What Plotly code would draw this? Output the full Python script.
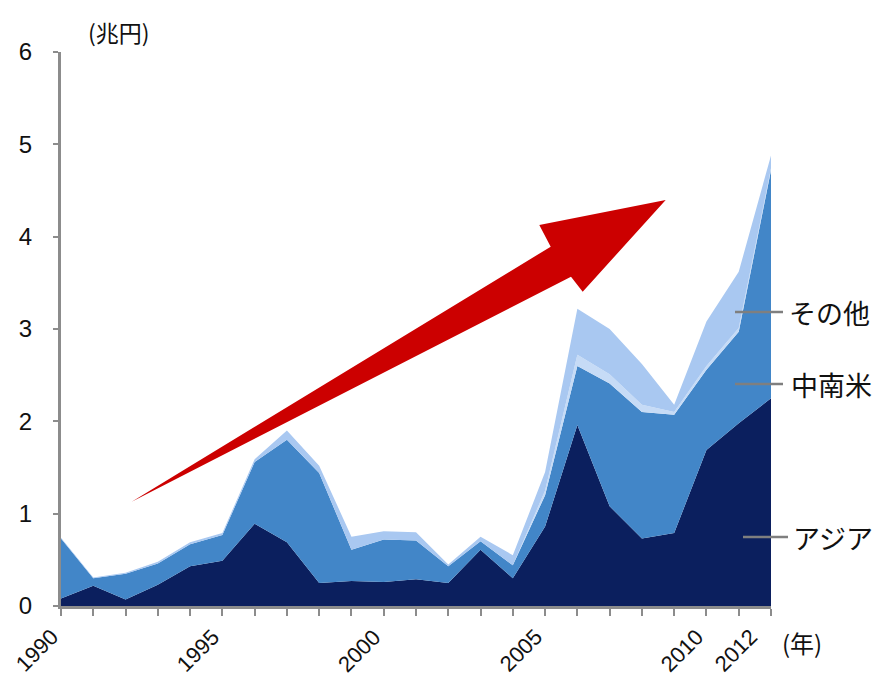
import plotly.graph_objects as go

years = list(range(1990, 2013))
asia = [0.08, 0.22, 0.07, 0.23, 0.43, 0.49, 0.89, 0.69, 0.25, 0.27, 0.26, 0.29,
        0.25, 0.61, 0.30, 0.86, 1.96, 1.08, 0.73, 0.79, 1.69, 1.98, 2.25]
latam = [0.65, 0.08, 0.28, 0.23, 0.24, 0.28, 0.67, 1.11, 1.19, 0.34, 0.46, 0.42,
         0.18, 0.09, 0.14, 0.34, 0.64, 1.33, 1.37, 1.28, 0.87, 0.99, 2.47]
pale = [0.0, 0.0, 0.0, 0.0, 0.0, 0.0, 0.0, 0.0, 0.0, 0.0, 0.0, 0.0,
        0.0, 0.0, 0.0, 0.05, 0.12, 0.10, 0.08, 0.03, 0.04, 0.04, 0.02]
other = [0.01, 0.01, 0.01, 0.02, 0.02, 0.02, 0.03, 0.10, 0.08, 0.14, 0.09, 0.09,
         0.02, 0.05, 0.11, 0.20, 0.50, 0.49, 0.44, 0.08, 0.48, 0.61, 0.14]
tick_years = [1990, 1995, 2000, 2005, 2010, 2012]
y_ticks = [0, 1, 2, 3, 4, 5, 6]

W, H = 887, 680
L, R, T, B = 61, 116, 52, 74
PW, PH = W - L - R, H - T - B


def px(x):
    return (x - L) / PW


def py(y):
    return (H - B - y) / PH


NUM_FONT = "Liberation Sans, Arial, sans-serif"
JP_FONT = "Noto Sans CJK JP, sans-serif"

fig = go.Figure()
series = [
    ("アジア", asia, "#0b1f5e"),
    ("中南米", latam, "#4286c8"),
    ("その他(薄)", pale, "#c6dbf6"),
    ("その他", other, "#a9c8f1"),
]
for name, vals, col in series:
    fig.add_trace(go.Scatter(
        x=years, y=vals, name=name, mode="lines", stackgroup="one",
        line=dict(width=0, color=col), fillcolor=col, hoverinfo="skip",
    ))

# Red arrow (pixel outline converted to paper coords)
arrow = [(131.7, 501.7), (550.7, 246.7), (539.3, 225.0), (665.7, 200.0),
         (582.7, 291.7), (571.0, 276.7)]
path = "M " + " L ".join(f"{px(a):.5f},{py(b):.5f}" for a, b in arrow) + " Z"
shapes = [dict(type="path", xref="paper", yref="paper", path=path,
               fillcolor="#cc0000", line=dict(width=0))]

# Label leader lines
for (x0, x1, yy) in [(735, 783, 312), (735, 783, 384), (743, 788, 537)]:
    shapes.append(dict(type="line", xref="paper", yref="paper",
                       x0=px(x0), x1=px(x1), y0=py(yy), y1=py(yy),
                       line=dict(color="#7f7f7f", width=2.5)))

annotations = []
for txt, x0, yy in [("その他", 787, 312), ("中南米", 789, 384), ("アジア", 791, 537)]:
    annotations.append(dict(xref="paper", yref="paper", x=px(x0), y=py(yy),
                            text=txt, showarrow=False, xanchor="left", yanchor="middle",
                            font=dict(family=JP_FONT, size=27, color="#111111")))
annotations.append(dict(xref="paper", yref="paper", x=px(86), y=py(32),
                        text="(兆円)", showarrow=False, xanchor="left", yanchor="middle",
                        font=dict(family=JP_FONT, size=23, color="#111111")))
annotations.append(dict(xref="paper", yref="paper", x=px(780), y=py(642),
                        text="(年)", showarrow=False, xanchor="left", yanchor="middle",
                        font=dict(family=JP_FONT, size=24, color="#111111")))

# Rotated year labels
for yr in tick_years:
    annotations.append(dict(xref="x", yref="paper", x=yr, y=py(622),
                            text=str(yr), showarrow=False, textangle=-45,
                            xanchor="right", yanchor="top",
                            xshift=(-6 if yr == 2012 else 5),
                            font=dict(family=NUM_FONT, size=22, color="#111111")))

fig.update_layout(
    width=W, height=H,
    margin=dict(l=L, r=R, t=T, b=B, autoexpand=False),
    paper_bgcolor="white", plot_bgcolor="white",
    showlegend=False,
    shapes=shapes, annotations=annotations,
    xaxis=dict(
        range=[1990, 2012], tickvals=tick_years, showticklabels=False,
        ticks="outside", ticklen=7, tickwidth=2, tickcolor="#8c8c8c",
        minor=dict(ticks="outside", dtick=1, tick0=1990, ticklen=7, tickwidth=2,
                   tickcolor="#8c8c8c"),
        showline=True, linecolor="#8c8c8c", linewidth=3,
        showgrid=False, zeroline=False,
    ),
    yaxis=dict(
        range=[0, 6], tickvals=y_ticks, ticks="outside", ticklen=5, tickwidth=2,
        tickcolor="#8c8c8c", showline=True, linecolor="#8c8c8c", linewidth=3,
        showgrid=False, zeroline=False, ticklabelstandoff=16,
        tickfont=dict(family=NUM_FONT, size=24, color="#111111"),
    ),
)

fig.write_html("out.html")
